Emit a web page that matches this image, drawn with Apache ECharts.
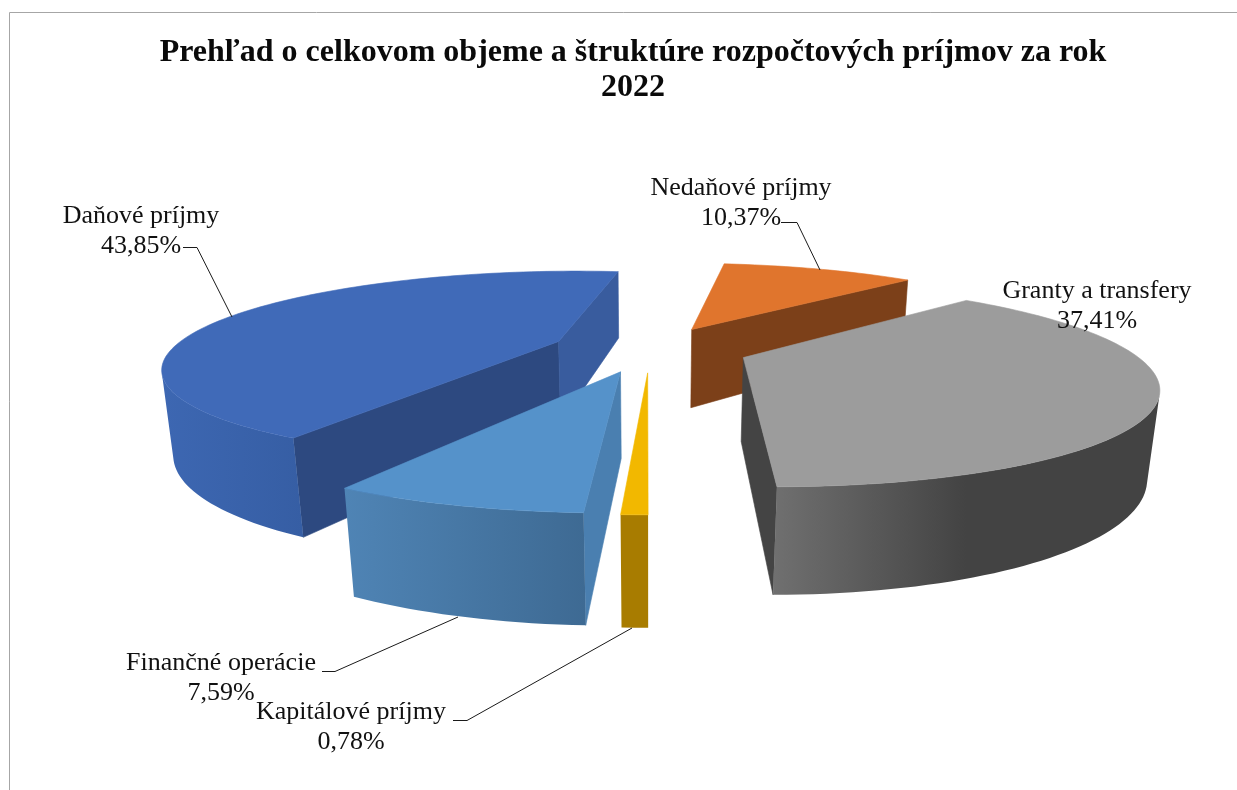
<!DOCTYPE html>
<html>
<head>
<meta charset="utf-8">
<title>Prehľad príjmov 2022</title>
<script src="https://cdn.jsdelivr.net/npm/echarts@6/dist/echarts.min.js"></script>
<style>
	html, body { margin: 0; padding: 0; background: #fff; }
	#chart { width: 1237px; height: 790px; }
</style>
</head>
<body>
<div id="chart"></div>
<script>
/*** rozpočtové príjmy 2022 ***/
var chartTitle = "Prehľad o celkovom objeme a štruktúre rozpočtových príjmov za rok\n2022";
var categories = ["Daňové príjmy", "Nedaňové príjmy", "Granty a transfery", "Kapitálové príjmy", "Finančné operácie"];
var values = [43.85, 10.37, 37.41, 0.78, 7.59];

// paint order, back slices first
var drawOrder = [0, 1, 2, 4, 3];
var firstSliceAngle = 210;

var sliceStyles = [
	{ top: "#406ab8", cutStart: "#2d4980", cutEnd: "#395c9e", wall: ["#3d67b2", "#365ea4"] },
	{ top: "#e0752d", cutStart: "#7c4019", cutEnd: "#7c4019", wall: ["#7c4019", "#7c4019"] },
	{ top: "#9c9c9c", cutStart: "#444444", cutEnd: "#444444", wall: ["#707070", "#434343", "#434343"] },
	{ top: "#f2b800", cutStart: "#a87c00", cutEnd: "#a87c00", wall: ["#a87c00", "#a87c00"] },
	{ top: "#5592ca", cutStart: "#4a7fb0", cutEnd: "#4a7fb0", wall: ["#4f84b5", "#3e6a93"] }
];

// label centre and leader line for each slice
var labelLayouts = [
	{ x: 141, y: 230, leader: [[183, 247.5], [197, 247.5], [232, 317]] },
	{ x: 741, y: 202, leader: [[781, 222.5], [797, 222.5], [820, 270]] },
	{ x: 1097, y: 305, leader: null },
	{ x: 351, y: 726, leader: [[453, 720.5], [467, 720.5], [632, 628]] },
	{ x: 221, y: 677, leader: [[322, 671.5], [335, 671.5], [458, 617]] }
];

// camera fitted to the picture
var camera = { cx: 650, cy: 608, f: 1452, tilt: 23.2 * Math.PI / 180, height: 0.582, dist: 2.506 };
var pie = { radius: 0.673, stretch: 1.03, explode: 0.172, depth: 0.148 };

function project(x, y, d) {
	var v = camera.dist + y,
		h = camera.height + d,
		c = Math.cos(camera.tilt),
		s = Math.sin(camera.tilt),
		z = v * c + h * s;
	return [camera.cx + camera.f * x / z, camera.cy + camera.f * (h * c - v * s) / z];
}

function sliceAngles(index) {
	var total = values.reduce(function(a, b) { return a + b; }, 0),
		sum = 0;
	for (var i = 0; i < index; i++) sum += values[i];
	var start = firstSliceAngle + sum / total * 360,
		end = start + values[index] / total * 360;
	return [start * Math.PI / 180, end * Math.PI / 180];
}

function facesCamera(nx, ny, px, py) {
	return nx * (0 - px) + ny * (-camera.dist - py) > 0;
}

function polygon(points, fill, stroke) {
	return {
		type: "polygon",
		shape: { points: points },
		style: { fill: fill, stroke: stroke, lineWidth: 0.6, lineJoin: "round" },
		silent: true
	};
}

function renderSlice(params, api) {
	var index = api.value(0),
		style = sliceStyles[index],
		angles = sliceAngles(index),
		a0 = angles[0],
		a1 = angles[1],
		mid = (a0 + a1) / 2,
		ax = pie.explode * Math.sin(mid),
		ay = pie.explode * Math.cos(mid),
		children = [];

	function rim(a, d) {
		return project(ax + pie.radius * Math.sin(a), ay + pie.radius * pie.stretch * Math.cos(a), d);
	}

	// cut faces
	if (facesCamera(-Math.cos(a0), Math.sin(a0), ax, ay)) {
		children.push(polygon([project(ax, ay, 0), rim(a0, 0), rim(a0, pie.depth), project(ax, ay, pie.depth)], style.cutStart, style.cutStart));
	}
	if (facesCamera(Math.cos(a1), -Math.sin(a1), ax, ay)) {
		children.push(polygon([project(ax, ay, 0), rim(a1, 0), rim(a1, pie.depth), project(ax, ay, pie.depth)], style.cutEnd, style.cutEnd));
	}

	// outer wall, only the part turned to the camera
	var steps = Math.max(2, Math.ceil((a1 - a0) / (1.5 * Math.PI / 180))),
		topRim = [],
		wallTop = [],
		wallBottom = [];
	for (var i = 0; i <= steps; i++) {
		var a = a0 + (a1 - a0) * i / steps,
			nx = Math.sin(a),
			ny = Math.cos(a);
		topRim.push(rim(a, 0));
		if (facesCamera(nx, ny, ax + pie.radius * nx, ay + pie.radius * ny)) {
			wallTop.push(rim(a, 0));
			wallBottom.unshift(rim(a, pie.depth));
		}
	}
	if (wallTop.length > 1) {
		var stops = style.wall.map(function(color, k) {
			return { offset: k / (style.wall.length - 1), color: color };
		});
		children.push(polygon(wallTop.concat(wallBottom), new echarts.graphic.LinearGradient(0, 0, 1, 0, stops), null));
	}

	// top face
	children.push(polygon([project(ax, ay, 0)].concat(topRim), style.top, style.top));
	return { type: "group", children: children };
}

function formatPercent(value) {
	return value.toFixed(2).replace(".", ",") + "%";
}

function renderLabel(params, api) {
	var index = api.value(0),
		layout = labelLayouts[index],
		children = [];
	if (layout.leader) {
		children.push({
			type: "polyline",
			shape: { points: layout.leader },
			style: { stroke: "#1a1a1a", lineWidth: 1, fill: null },
			silent: true
		});
	}
	children.push({
		type: "text",
		style: {
			text: categories[index] + "\n" + formatPercent(values[index]),
			x: layout.x,
			y: layout.y + 1,
			align: "center",
			verticalAlign: "middle",
			fill: "#111111",
			font: '26px "Liberation Serif"',
			lineHeight: 30
		},
		silent: true
	});
	return { type: "group", children: children };
}

var sliceData = drawOrder.map(function(i) { return [i, values[i]]; });

var chart = echarts.init(document.getElementById("chart"), null, { renderer: "canvas" });
chart.setOption({
	animation: false,
	backgroundColor: "#ffffff",
	title: {
		text: chartTitle,
		left: 628,
		top: 30,
		textAlign: "center",
		textStyle: {
			fontFamily: "Liberation Serif",
			fontWeight: "bold",
			fontSize: 32,
			lineHeight: 35,
			color: "#0a0a0a"
		}
	},
	graphic: [{
		// chart frame, only top and left show in the picture
		type: "polyline",
		shape: { points: [[9.5, 790], [9.5, 12.5], [1237, 12.5]] },
		style: { stroke: "#a6a6a6", lineWidth: 1, fill: null },
		silent: true
	}],
	series: [{
		type: "custom",
		coordinateSystem: "none",
		renderItem: renderSlice,
		data: sliceData,
		z: 2
	}, {
		type: "custom",
		coordinateSystem: "none",
		renderItem: renderLabel,
		data: sliceData,
		z: 3
	}]
});
</script>
</body>
</html>
